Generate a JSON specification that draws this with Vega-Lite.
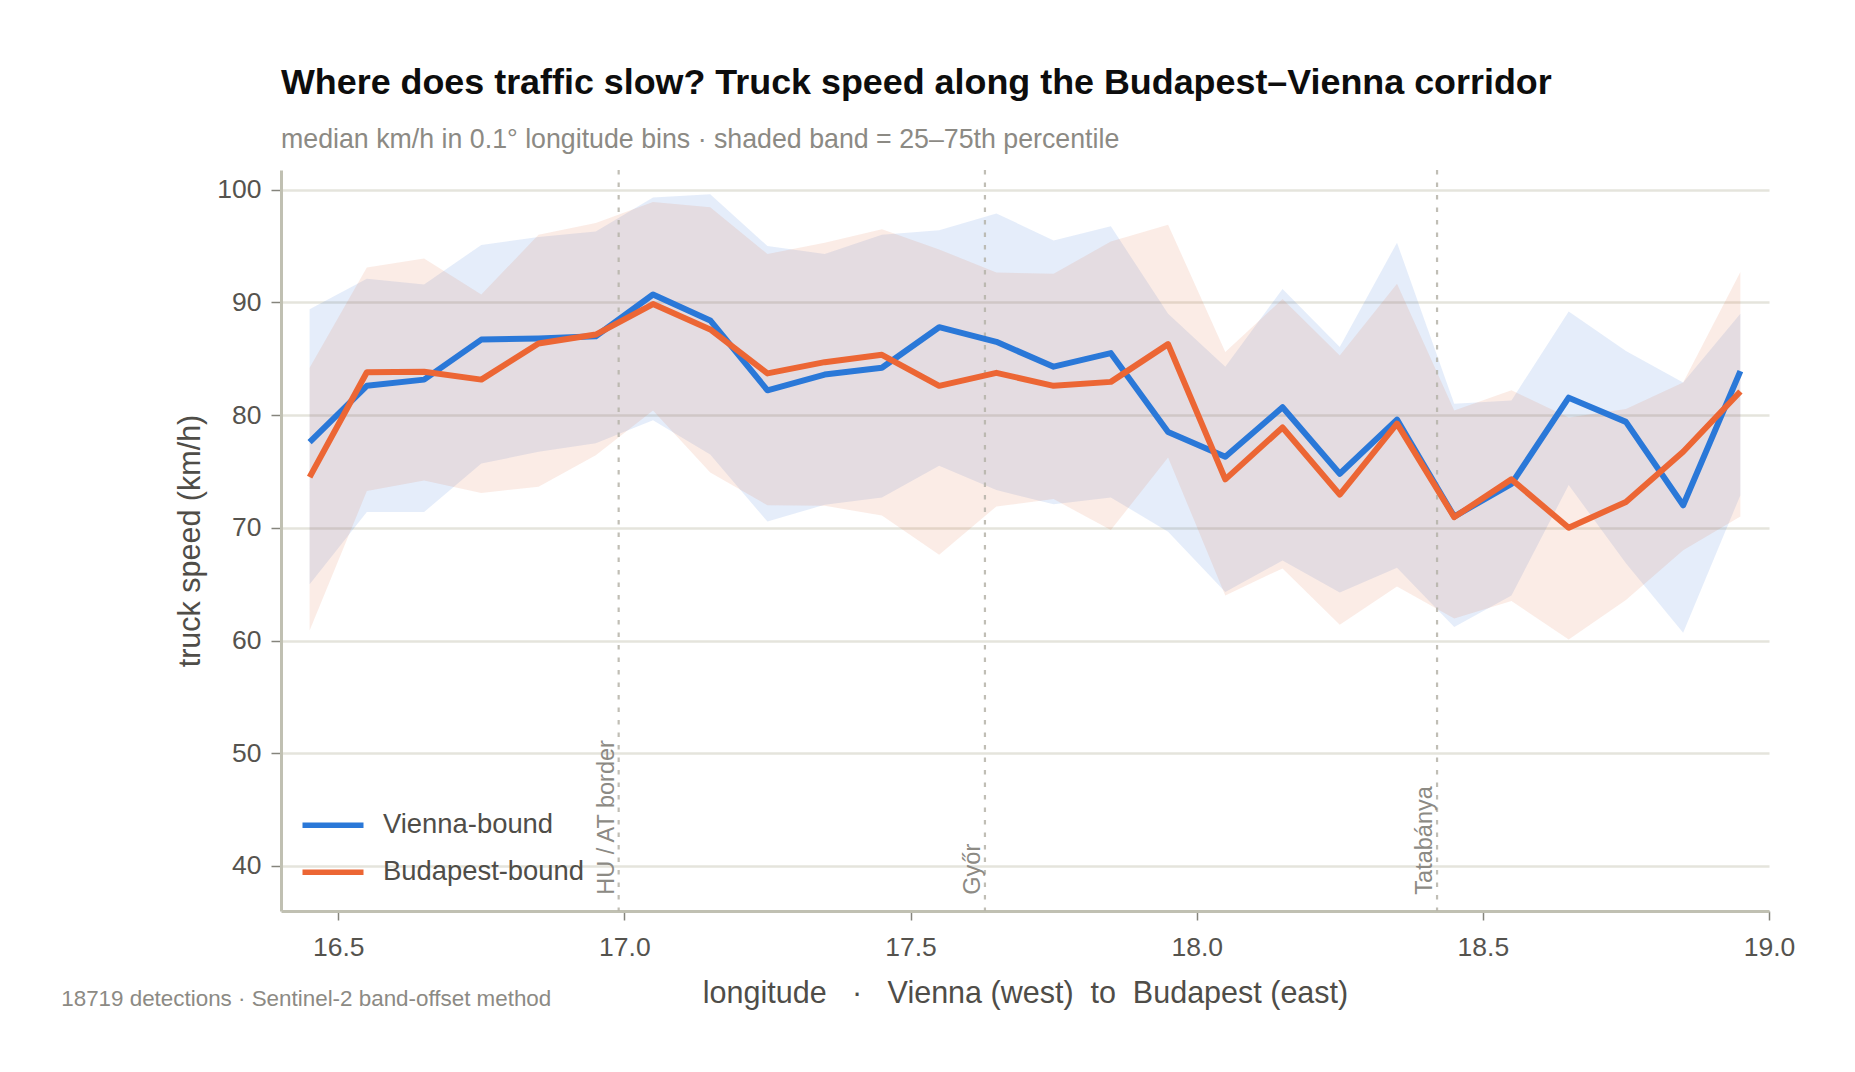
{
"$schema":"https://vega.github.io/schema/vega-lite/v6.json",
"width":1488,"height":741,
"autosize":{"type":"none"},
"padding":{"left":281,"top":170,"right":86,"bottom":161},
"background":"white",
"config":{"view":{"stroke":null}},
"title":{"text":"Where does traffic slow? Truck speed along the Budapest–Vienna corridor","subtitle":"median km/h in 0.1° longitude bins · shaded band = 25–75th percentile","anchor":"start","frame":"group","font":"Liberation Sans","fontSize":35.87,"fontWeight":"bold","color":"#0d0d0d","subtitleFont":"Liberation Sans","subtitleFontSize":26.75,"subtitleColor":"#8c8a84","subtitlePadding":24.5,"offset":14.5},
"resolve":{"legend":{"fill":"independent","stroke":"independent"}},
"datasets":{
"series":[
{"lon":16.45,"direction":"Vienna-bound","median":77.6,"p25":65.0,"p75":89.4},
{"lon":16.55,"direction":"Vienna-bound","median":82.6,"p25":71.4,"p75":92.1},
{"lon":16.65,"direction":"Vienna-bound","median":83.15,"p25":71.4,"p75":91.6},
{"lon":16.75,"direction":"Vienna-bound","median":86.7,"p25":75.7,"p75":95.1},
{"lon":16.85,"direction":"Vienna-bound","median":86.8,"p25":76.75,"p75":95.8},
{"lon":16.95,"direction":"Vienna-bound","median":87.0,"p25":77.5,"p75":96.3},
{"lon":17.05,"direction":"Vienna-bound","median":90.7,"p25":79.55,"p75":99.3},
{"lon":17.15,"direction":"Vienna-bound","median":88.4,"p25":76.5,"p75":99.6},
{"lon":17.25,"direction":"Vienna-bound","median":82.2,"p25":70.55,"p75":95.0},
{"lon":17.35,"direction":"Vienna-bound","median":83.6,"p25":72.05,"p75":94.3},
{"lon":17.45,"direction":"Vienna-bound","median":84.2,"p25":72.7,"p75":96.0},
{"lon":17.55,"direction":"Vienna-bound","median":87.8,"p25":75.5,"p75":96.4},
{"lon":17.65,"direction":"Vienna-bound","median":86.5,"p25":73.35,"p75":97.9},
{"lon":17.75,"direction":"Vienna-bound","median":84.3,"p25":72.1,"p75":95.5},
{"lon":17.85,"direction":"Vienna-bound","median":85.5,"p25":72.7,"p75":96.75},
{"lon":17.95,"direction":"Vienna-bound","median":78.5,"p25":69.65,"p75":89.0},
{"lon":18.05,"direction":"Vienna-bound","median":76.3,"p25":64.3,"p75":84.3},
{"lon":18.15,"direction":"Vienna-bound","median":80.7,"p25":67.1,"p75":91.2},
{"lon":18.25,"direction":"Vienna-bound","median":74.8,"p25":64.25,"p75":86.05},
{"lon":18.35,"direction":"Vienna-bound","median":79.6,"p25":66.45,"p75":95.3},
{"lon":18.45,"direction":"Vienna-bound","median":71.0,"p25":61.2,"p75":81.0},
{"lon":18.55,"direction":"Vienna-bound","median":73.9,"p25":64.0,"p75":81.3},
{"lon":18.65,"direction":"Vienna-bound","median":81.55,"p25":73.8,"p75":89.2},
{"lon":18.75,"direction":"Vienna-bound","median":79.4,"p25":66.85,"p75":85.7},
{"lon":18.85,"direction":"Vienna-bound","median":72.0,"p25":60.7,"p75":82.9},
{"lon":18.95,"direction":"Vienna-bound","median":83.9,"p25":72.9,"p75":89.0},
{"lon":16.45,"direction":"Budapest-bound","median":74.5,"p25":60.9,"p75":84.2},
{"lon":16.55,"direction":"Budapest-bound","median":83.8,"p25":73.26,"p75":93.1},
{"lon":16.65,"direction":"Budapest-bound","median":83.85,"p25":74.2,"p75":93.9},
{"lon":16.75,"direction":"Budapest-bound","median":83.15,"p25":73.1,"p75":90.7},
{"lon":16.85,"direction":"Budapest-bound","median":86.35,"p25":73.65,"p75":96.0},
{"lon":16.95,"direction":"Budapest-bound","median":87.15,"p25":76.45,"p75":97.05},
{"lon":17.05,"direction":"Budapest-bound","median":89.85,"p25":80.4,"p75":98.9},
{"lon":17.15,"direction":"Budapest-bound","median":87.6,"p25":74.9,"p75":98.45},
{"lon":17.25,"direction":"Budapest-bound","median":83.7,"p25":72.0,"p75":94.3},
{"lon":17.35,"direction":"Budapest-bound","median":84.7,"p25":71.95,"p75":95.3},
{"lon":17.45,"direction":"Budapest-bound","median":85.35,"p25":71.1,"p75":96.5},
{"lon":17.55,"direction":"Budapest-bound","median":82.6,"p25":67.6,"p75":94.7},
{"lon":17.65,"direction":"Budapest-bound","median":83.75,"p25":71.9,"p75":92.65},
{"lon":17.75,"direction":"Budapest-bound","median":82.6,"p25":72.55,"p75":92.55},
{"lon":17.85,"direction":"Budapest-bound","median":82.95,"p25":69.8,"p75":95.4},
{"lon":17.95,"direction":"Budapest-bound","median":86.3,"p25":76.25,"p75":96.9},
{"lon":18.05,"direction":"Budapest-bound","median":74.3,"p25":64.0,"p75":85.6},
{"lon":18.15,"direction":"Budapest-bound","median":78.9,"p25":66.4,"p75":90.3},
{"lon":18.25,"direction":"Budapest-bound","median":72.95,"p25":61.4,"p75":85.3},
{"lon":18.35,"direction":"Budapest-bound","median":79.25,"p25":64.8,"p75":91.65},
{"lon":18.45,"direction":"Budapest-bound","median":70.95,"p25":61.95,"p75":80.4},
{"lon":18.55,"direction":"Budapest-bound","median":74.3,"p25":63.5,"p75":82.2},
{"lon":18.65,"direction":"Budapest-bound","median":70.0,"p25":60.1,"p75":79.8},
{"lon":18.75,"direction":"Budapest-bound","median":72.3,"p25":63.6,"p75":80.55},
{"lon":18.85,"direction":"Budapest-bound","median":76.75,"p25":68.0,"p75":82.9},
{"lon":18.95,"direction":"Budapest-bound","median":82.1,"p25":71.0,"p75":92.7}
],
"places":[
{"lon":16.99,"place":"HU / AT border"},
{"lon":17.63,"place":"Győr"},
{"lon":18.42,"place":"Tatabánya"}
],
"notes":[{"note":"18719 detections · Sentinel-2 band-offset method"}]
},
"layer":[
{"data":{"name":"series"},"mark":{"type":"area","opacity":0.12,"interpolate":"linear"},
"encoding":{
"x":{"field":"lon","type":"quantitative","scale":{"domain":[16.4,19.0],"nice":false,"zero":false},
"axis":{"values":[16.5,17,17.5,18,18.5,19],"format":".1f","title":"longitude\u00a0\u00a0\u00a0·\u00a0\u00a0\u00a0Vienna (west)\u00a0\u00a0to\u00a0\u00a0Budapest (east)","grid":false,"domainColor":"#c0c0b2","domainWidth":3,"tickColor":"#85847c","tickWidth":1.5,"tickSize":9,"labelFont":"Liberation Sans","labelFontSize":26.5,"labelColor":"#55534e","labelPadding":14,"labelFlush":false,"titleFont":"Liberation Sans","titleFontSize":30.5,"titleFontWeight":"normal","titleColor":"#4f4d48","titlePadding":18}},
"y":{"field":"p25","type":"quantitative","scale":{"domain":[36,101.75],"nice":false,"zero":false},
"axis":{"values":[40,50,60,70,80,90,100],"title":"truck speed (km/h)","grid":true,"gridColor":"#e5e4dc","gridWidth":2.5,"domainColor":"#c0c0b2","domainWidth":3,"tickColor":"#85847c","tickWidth":1.5,"tickSize":10,"labelFont":"Liberation Sans","labelFontSize":26.5,"labelColor":"#55534e","labelPadding":10,"titleFont":"Liberation Sans","titleFontSize":30.5,"titleFontWeight":"normal","titleColor":"#4f4d48","titlePadding":11.5}},
"y2":{"field":"p75"},
"fill":{"field":"direction","type":"nominal","scale":{"domain":["Vienna-bound","Budapest-bound"],"range":["#2a68d4","#e06530"]},"legend":null}}},
{"data":{"name":"places"},"mark":{"type":"rule","color":"#b5b3a8","strokeWidth":2.2,"strokeDash":[4.5,8],"opacity":0.85},"encoding":{"x":{"field":"lon","type":"quantitative"}}},
{"data":{"name":"places"},"mark":{"type":"text","angle":270,"align":"left","baseline":"bottom","font":"Liberation Sans","fontSize":23.5,"color":"#8c8a84","dy":0},
"encoding":{"x":{"field":"lon","type":"quantitative"},"y":{"datum":37.45,"type":"quantitative"},"text":{"field":"place"}}},
{"data":{"name":"series"},"mark":{"type":"line","strokeWidth":6,"strokeJoin":"round"},
"encoding":{"x":{"field":"lon","type":"quantitative"},"y":{"field":"median","type":"quantitative"},
"stroke":{"field":"direction","type":"nominal","scale":{"domain":["Vienna-bound","Budapest-bound"],"range":["#2a78d8","#ec6634"]},"legend":{"orient":"none","legendX":18.5,"legendY":621.7,"title":null,"symbolType":"stroke","symbolSize":3721,"symbolStrokeWidth":5.5,"symbolOpacity":1,"labelFont":"Liberation Sans","labelFontSize":27.4,"labelColor":"#4f4d48","labelOffset":16.5,"labelLimit":400,"rowPadding":0,"padding":0}}}},
{"data":{"name":"notes"},"mark":{"type":"text","align":"left","baseline":"alphabetic","font":"Liberation Sans","fontSize":22.4,"color":"#8c8a84"},
"encoding":{"x":{"datum":16.016,"type":"quantitative"},"y":{"datum":27.59,"type":"quantitative"},"text":{"field":"note"}}}
]
}
